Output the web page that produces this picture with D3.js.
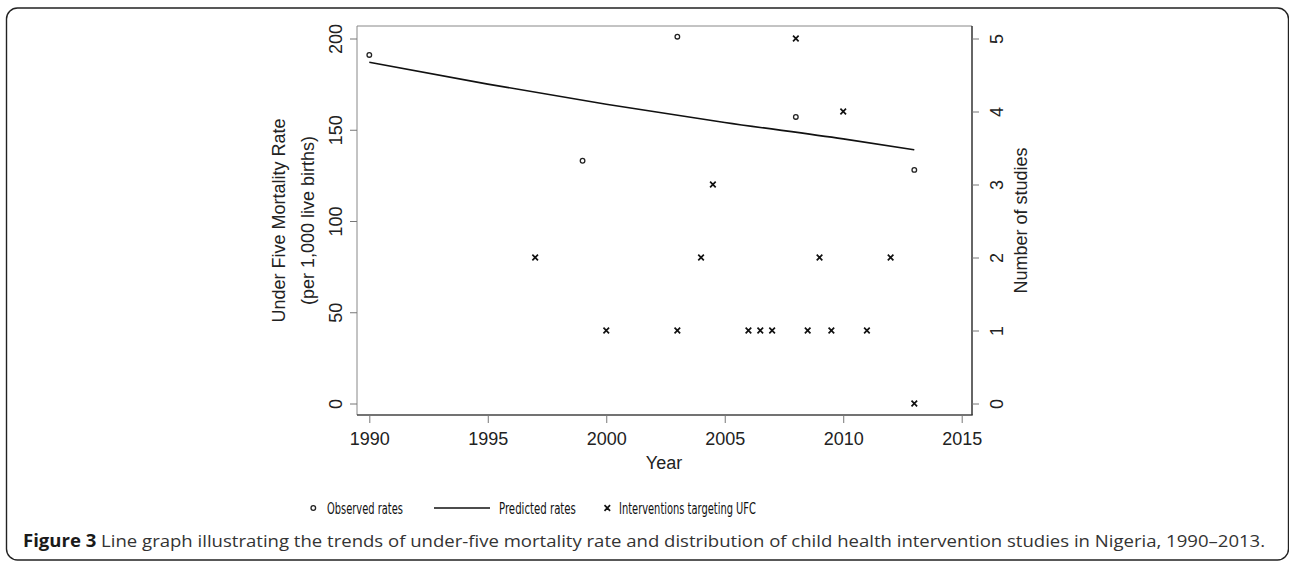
<!DOCTYPE html>
<html>
<head>
<meta charset="utf-8">
<script src="https://cdn.jsdelivr.net/npm/d3@7"></script>
<style>
  html, body { margin: 0; padding: 0; background: #fff; }
  svg { display: block; }
  .tick text { font-family: "Liberation Sans", Arial, sans-serif; fill: #222; }
</style>
</head>
<body>
<svg id="chart" width="1289" height="562"></svg>
<script>
// Beobachtete U5MR (DHS-Jahre) und vorhergesagter Trend
const obsYears = [1990, 1999, 2003, 2008, 2013];
const obsRates = [191, 133, 201, 157, 128];

const predYears = [1990, 1995, 2000, 2005, 2010, 2013];
const predRates = [187, 175, 164, 154, 145, 139];

// Interventionsstudien pro Jahr (rechte Achse)
const studyYears  = [1997, 2000, 2003, 2004, 2004.5, 2006, 2006.5, 2007, 2008, 2008.5, 2009, 2009.5, 2010, 2011, 2012, 2013];
const studyCounts = [2, 1, 1, 2, 3, 1, 1, 1, 5, 1, 2, 1, 4, 1, 2, 0];

const xTicks = [1990, 1995, 2000, 2005, 2010, 2015];
const yTicks = [0, 50, 100, 150, 200];
const y2Ticks = [0, 1, 2, 3, 4, 5];

const legendLabels = ["Observed rates", "Predicted rates", "Interventions targeting UFC"];
const captionBold = "Figure 3";
const captionText = " Line graph illustrating the trends of under-five mortality rate and distribution of child health intervention studies in Nigeria, 1990\u20132013.";

const box = { left: 357, right: 972, top: 26, bottom: 415 };

const svg = d3.select("#chart");

// Rahmen um die ganze Abbildung
svg.append("rect")
  .attr("x", 6.5).attr("y", 8)
  .attr("width", 1282).attr("height", 552)
  .attr("rx", 11)
  .attr("fill", "none")
  .attr("stroke", "#222")
  .attr("stroke-width", 1.4);

const x = d3.scaleLinear().domain([1990, 2015]).range([369.3, 961.7]);
const y = d3.scaleLinear().domain([0, 200]).range([403.5, 38.5]);
const y2 = d3.scaleLinear().domain([0, 5]).range([403.5, 38.5]);

// Plotbox: oben/links heller, unten/rechts dunkler wie im Original
svg.append("line").attr("x1", box.left).attr("x2", box.right).attr("y1", box.top).attr("y2", box.top)
  .attr("stroke", "#888").attr("stroke-width", 1);
svg.append("line").attr("x1", box.left).attr("x2", box.left).attr("y1", box.top).attr("y2", box.bottom)
  .attr("stroke", "#888").attr("stroke-width", 1);
svg.append("line").attr("x1", box.left).attr("x2", box.right + 0.7).attr("y1", box.bottom).attr("y2", box.bottom)
  .attr("stroke", "#444").attr("stroke-width", 1.5);
svg.append("line").attr("x1", box.right).attr("x2", box.right).attr("y1", box.top).attr("y2", box.bottom)
  .attr("stroke", "#333").attr("stroke-width", 1.5);

function styleAxis(g) {
  g.select(".domain").remove();
  g.selectAll(".tick line").attr("stroke", "#777").attr("stroke-width", 1);
  g.selectAll(".tick text").style("font-size", "18px");
}

// X-Achse
svg.append("g")
  .attr("transform", `translate(0,${box.bottom})`)
  .call(d3.axisBottom(x).tickValues(xTicks).tickFormat(d3.format("d")).tickSize(8).tickPadding(9))
  .call(styleAxis);

// linke Achse, Beschriftung parallel zur Achse (R las=0)
svg.append("g")
  .attr("transform", `translate(${box.left},0)`)
  .call(d3.axisLeft(y).tickValues(yTicks).tickFormat(d3.format("d")).tickSize(7))
  .call(styleAxis)
  .call((g) => g.selectAll(".tick text")
    .attr("transform", "rotate(-90)")
    .attr("x", 0).attr("y", -15).attr("dy", 0)
    .attr("text-anchor", "middle"));

// rechte Achse
svg.append("g")
  .attr("transform", `translate(${box.right},0)`)
  .call(d3.axisRight(y2).tickValues(y2Ticks).tickFormat(d3.format("d")).tickSize(7))
  .call(styleAxis)
  .call((g) => g.selectAll(".tick text")
    .attr("transform", "rotate(-90)")
    .attr("x", 0).attr("y", 31).attr("dy", 0)
    .attr("text-anchor", "middle"));

const labelFont = "Liberation Sans, Arial, sans-serif";

svg.append("text")
  .attr("x", (box.left + box.right) / 2 - 0.5).attr("y", 469)
  .attr("text-anchor", "middle")
  .style("font-family", labelFont).style("font-size", "18px").attr("fill", "#222")
  .text("Year");

const midY = (box.top + box.bottom) / 2;
[["Under Five Mortality Rate", 285], ["(per 1,000 live births)", 314]].forEach(([t, bx]) => {
  svg.append("text")
    .attr("transform", `translate(${bx},${midY}) rotate(-90)`)
    .attr("text-anchor", "middle")
    .style("font-family", labelFont).style("font-size", "18px").attr("fill", "#222")
    .text(t);
});

svg.append("text")
  .attr("transform", `translate(1027,${midY}) rotate(-90)`)
  .attr("text-anchor", "middle")
  .style("font-family", labelFont).style("font-size", "18px").attr("fill", "#222")
  .text("Number of studies");

// vorhergesagte Linie
const predData = predYears.map((yr, i) => ({ yr, v: predRates[i] }));
svg.append("path")
  .datum(predData)
  .attr("fill", "none")
  .attr("stroke", "#111")
  .attr("stroke-width", 1.6)
  .attr("d", d3.line().x((d) => x(d.yr)).y((d) => y(d.v)).curve(d3.curveMonotoneX));

// beobachtete Raten
const obsData = obsYears.map((yr, i) => ({ yr, v: obsRates[i] }));
svg.append("g").selectAll("circle")
  .data(obsData)
  .join("circle")
  .attr("cx", (d) => x(d.yr))
  .attr("cy", (d) => y(d.v))
  .attr("r", 2.3)
  .attr("fill", "none")
  .attr("stroke", "#222")
  .attr("stroke-width", 1.3);

// Studien als Kreuze
const crossPath = "M-2.8,-2.8L2.8,2.8M-2.8,2.8L2.8,-2.8";
const studyData = studyYears.map((yr, i) => ({ yr, n: studyCounts[i] }));
svg.append("g").selectAll("path")
  .data(studyData)
  .join("path")
  .attr("transform", (d) => `translate(${x(d.yr)},${y2(d.n)})`)
  .attr("d", crossPath)
  .attr("stroke", "#111")
  .attr("stroke-width", 1.7);

// Legende
const legFont = "'Liberation Sans Narrow', 'Arial Narrow', 'DejaVu Sans Condensed', sans-serif";
const legY = 508;
const legBase = 514;
svg.append("circle").attr("cx", 313.3).attr("cy", legY).attr("r", 2.3)
  .attr("fill", "none").attr("stroke", "#222").attr("stroke-width", 1.3);
svg.append("line").attr("x1", 434).attr("x2", 490).attr("y1", legY).attr("y2", legY)
  .attr("stroke", "#111").attr("stroke-width", 1.6);
svg.append("path").attr("transform", `translate(607.3,${legY})`).attr("d", crossPath)
  .attr("stroke", "#111").attr("stroke-width", 1.7);

const legStarts = [327, 499, 619];
const legWidths = [76, 77, 137];
legendLabels.forEach((t, i) => {
  const el = svg.append("text")
    .attr("x", legStarts[i]).attr("y", legBase)
    .style("font-family", legFont).style("font-size", "16px").attr("fill", "#111")
    .text(t);
  const w = el.node().getComputedTextLength();
  if (w > 0) {
    const s = legWidths[i] / w;
    el.attr("transform", `translate(${legStarts[i] * (1 - s)},0) scale(${s},1)`);
  }
});

// Bildunterschrift
const cap = svg.append("text")
  .attr("x", 23).attr("y", 547)
  .style("font-family", "'Open Sans', 'Noto Sans', sans-serif")
  .style("font-size", "17px")
  .attr("fill", "#333");
cap.append("tspan").style("font-weight", "bold").attr("fill", "#1a1a1a").text(captionBold);
cap.append("tspan").text(captionText);
const cw = cap.node().getComputedTextLength();
if (cw > 0) {
  const s = 1243 / cw;
  cap.attr("transform", `translate(${23 * (1 - s)},0) scale(${s},1)`);
}
</script>
</body>
</html>
